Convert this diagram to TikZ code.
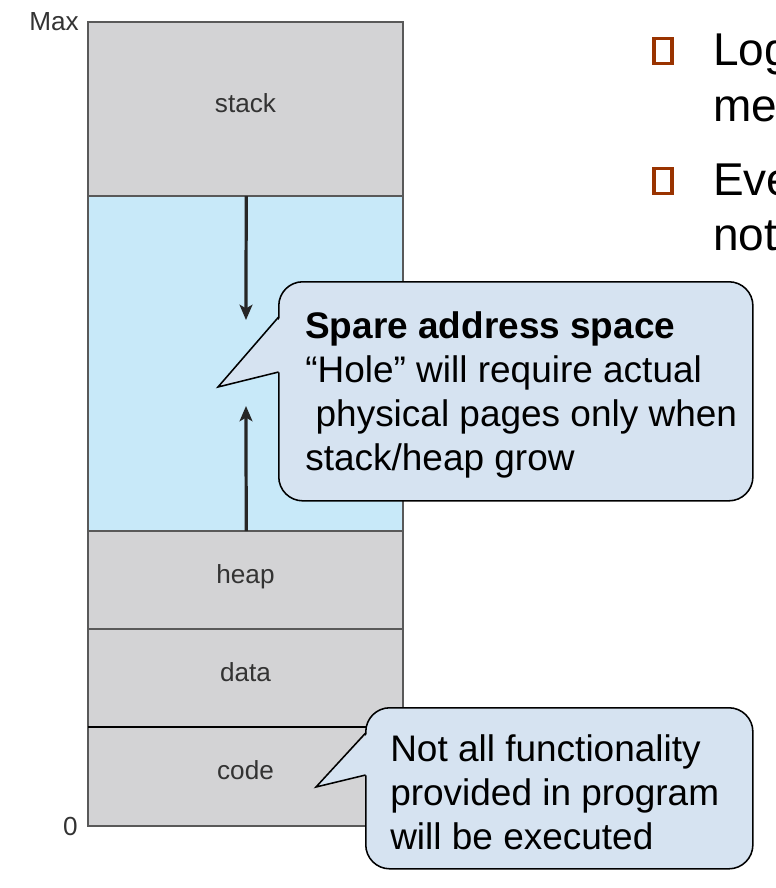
\documentclass[tikz,border=0pt]{standalone}
\usepackage{fontspec}
\setmainfont{Liberation Sans}
\usetikzlibrary{positioning,arrows.meta}
\definecolor{seggray}{HTML}{D3D3D5}
\definecolor{holeblue}{HTML}{C8E9F9}
\definecolor{bubblefill}{HTML}{D6E3F1}
\definecolor{bulletbrown}{HTML}{993300}
\newcommand{\seglabelfont}{\fontsize{18.6}{22}\selectfont}
\newcommand{\bubblefont}{\fontsize{26.3}{31.3}\selectfont}
\newcommand{\slidefont}{\fontsize{32.7}{39}\selectfont}
\begin{document}
\begin{tikzpicture}
    [x=0.025cm,y=-0.025cm,
     seg/.style={draw=black!65,line width=1pt,fill=seggray,text=black!80,
       minimum width=7.875cm,inner sep=0pt,outer sep=0pt,font=\seglabelfont,
       text height=0.75em,text depth=0.28em},
     growarrow/.style={-{Stealth[length=3.8mm,width=3.2mm,inset=0.9mm]},line width=2.3pt,black!85},
     bubble/.style={draw=black,line width=1.1pt,fill=bubblefill,rounded corners=0.6cm,
       inner sep=0pt,anchor=north west},
     bubbletext/.style={align=left,inner sep=0pt,anchor=north west,font=\bubblefont},
     bulletbox/.style={draw=bulletbrown,line width=2.2pt,minimum width=0.45cm,
       minimum height=0.62cm,inner sep=0pt},
     slidetext/.style={anchor=base west,inner sep=0pt,font=\slidefont}]
    \clip (0,0) rectangle (776,888);
    % memory segments
    \node [seg,minimum height=4.35cm] (stack) at (245.5,109) {stack};
    \node [seg,fill=holeblue,minimum height=8.375cm,below=0pt of stack] (hole) {};
    \node [seg,minimum height=2.45cm,below=0pt of hole] (heap) {heap};
    \node [seg,minimum height=2.45cm,below=0pt of heap] (data) {data};
    \node [seg,minimum height=2.475cm,below=0pt of data] (code) {code};
    \draw [line width=1.4pt,black] (code.north west) -- (code.north east);
    \node [anchor=east,inner sep=0pt,text=black!80,font=\seglabelfont] (max) at (79,22) {Max};
    \node [anchor=east,inner sep=0pt,text=black!80,font=\seglabelfont] (zero) at (78,826) {0};
    % stack and heap grow into the hole
    \coordinate (downtip) at (246,320);
    \coordinate (uptip) at (246,406);
    \draw [growarrow] ([xshift=0.5]hole.north) -- (downtip);
    \draw [growarrow] ([xshift=0.5]hole.south) -- (uptip);
    % callout on the hole
    \node [bubble,minimum width=11.85cm,minimum height=5.475cm] (spare) at (278,281) {};
    \coordinate (sparetip) at (218,387);
    \fill [bubblefill] (281,317) -- (sparetip) -- (281,372) -- cycle;
    \draw [line width=1.1pt] (278.6,317) -- (sparetip) -- (278.6,372);
    \node [bubbletext] (sparetext) at (305,311)
      {\textbf{Spare address space}\\
       “Hole” will require actual\\
       \hspace*{0.28em}physical pages only when\\
       stack/heap grow};
    % callout on the code
    \node [bubble,minimum width=9.675cm,minimum height=4.025cm] (unused) at (365,707) {};
    \coordinate (unusedtip) at (316,787);
    \fill [bubblefill] (368,733) -- (unusedtip) -- (368,775) -- cycle;
    \draw [line width=1.1pt] (365.6,733) -- (unusedtip) -- (365.6,775);
    \node [bubbletext] (unusedtext) at (390,734)
      {Not all functionality\\
       provided in program\\
       will be executed};
    % slide text, cut off at the right
    \node [bulletbox] (bulletA) at (663,51) {};
    \node [bulletbox] (bulletB) at (663,181) {};
    \node [slidetext] (lineA) at (713,65) {Log};
    \node [slidetext] (lineB) at (713,121) {me};
    \node [slidetext] (lineC) at (713,195) {Eve};
    \node [slidetext] (lineD) at (713,250) {not};
  \end{tikzpicture}
\end{document}
